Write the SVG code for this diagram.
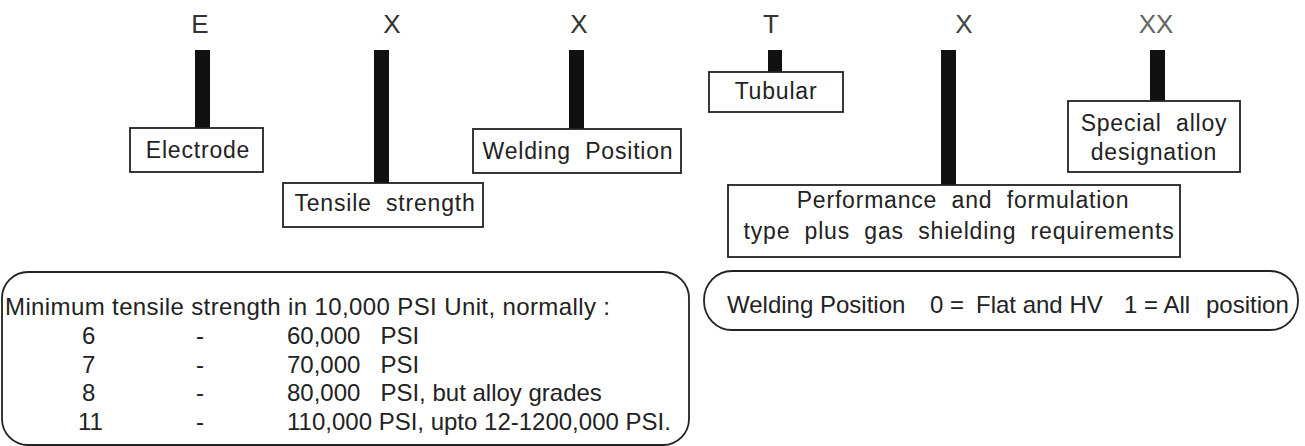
<svg xmlns="http://www.w3.org/2000/svg" width="1305" height="446" viewBox="0 0 1305 446">
<style>
.bg{fill:#ffffff}
.letter{font-family:"Liberation Sans",Arial,sans-serif;font-size:26px;fill:#333;text-anchor:middle}
.bar{fill:#111}
.box{fill:#ffffff;stroke:#222;stroke-width:1.8}
.lbl{font-family:"Liberation Sans",Arial,sans-serif;font-size:23px;fill:#222;text-anchor:middle;letter-spacing:0.8px}
.txt{font-family:"Liberation Sans",Arial,sans-serif;font-size:24px;fill:#222}
</style>
<rect class="bg" x="0" y="0" width="1305" height="446"/>
<g id="connectors">
<rect class="bar" x="195" y="50" width="15" height="78"/>
<rect class="bar" x="374" y="50" width="15" height="133"/>
<rect class="bar" x="569" y="50" width="15" height="79"/>
<rect class="bar" x="768" y="50" width="14" height="22"/>
<rect class="bar" x="941" y="50" width="15" height="135"/>
<rect class="bar" x="1150" y="50" width="15" height="51"/>
</g>
<g id="code-letters">
<text class="letter" x="200" y="33">E</text>
<text class="letter" x="392" y="33">X</text>
<text class="letter" x="579" y="33">X</text>
<text class="letter" x="771" y="33">T</text>
<text class="letter" x="964" y="33" style="fill:#444">X</text>
<text class="letter" x="1156" y="33" style="fill:#666">XX</text>
</g>
<g id="node-electrode">
<rect class="box" x="130" y="128" width="133" height="44"/>
<text class="lbl" x="198" y="158">Electrode</text>
</g>
<g id="node-tensile">
<rect class="box" x="283" y="183" width="200" height="44"/>
<text class="lbl" x="385" y="211" xml:space="preserve">Tensile  strength</text>
</g>
<g id="node-welding">
<rect class="box" x="473" y="129" width="208" height="44"/>
<text class="lbl" x="578" y="159" xml:space="preserve">Welding  Position</text>
</g>
<g id="node-tubular">
<rect class="box" x="709" y="72" width="134" height="40"/>
<text class="lbl" x="776" y="99">Tubular</text>
</g>
<g id="node-performance">
<rect class="box" x="728" y="185" width="452" height="72"/>
<text class="lbl" x="963" y="208" xml:space="preserve">Performance  and  formulation</text>
<text class="lbl" x="959" y="239" xml:space="preserve">type  plus  gas  shielding  requirements</text>
</g>
<g id="node-special">
<rect class="box" x="1068" y="101" width="172" height="71"/>
<text class="lbl" x="1154" y="131" xml:space="preserve">Special  alloy</text>
<text class="lbl" x="1154" y="160">designation</text>
</g>
<g id="node-tensile-table">
<rect class="box" x="2" y="272" width="687" height="173" rx="26" ry="26"/>
<text class="txt" x="5" y="315" textLength="605">Minimum tensile strength in 10,000 PSI Unit, normally :</text>
<text class="txt" x="82" y="344">6</text>
<text class="txt" x="196" y="344">-</text>
<text class="txt" x="287" y="344" xml:space="preserve">60,000   PSI</text>
<text class="txt" x="82" y="373">7</text>
<text class="txt" x="196" y="373">-</text>
<text class="txt" x="287" y="373" xml:space="preserve">70,000   PSI</text>
<text class="txt" x="82" y="401">8</text>
<text class="txt" x="196" y="401">-</text>
<text class="txt" x="287" y="401" xml:space="preserve">80,000   PSI, but alloy grades</text>
<text class="txt" x="78" y="430">11</text>
<text class="txt" x="196" y="430">-</text>
<text class="txt" x="287" y="430">110,000 PSI, upto 12-1200,000 PSI.</text>
</g>
<g id="node-welding-position-note">
<rect class="box" x="704" y="271" width="594" height="59" rx="28" ry="29"/>
<text class="txt" x="727" y="313">Welding Position</text>
<text class="txt" x="930" y="313">0 =</text>
<text class="txt" x="976" y="313">Flat and HV</text>
<text class="txt" x="1124" y="313">1 = All</text>
<text class="txt" x="1206" y="313">position</text>
</g>
</svg>
